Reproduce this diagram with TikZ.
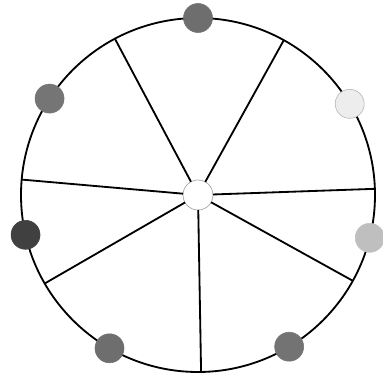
\documentclass[tikz,border=0pt]{standalone}
\usepackage{tikz}
\usetikzlibrary{positioning, calc}

\begin{document}
\begin{tikzpicture}[
    x=0.025cm, y=0.025cm,
    rimcircle/.style={circle, draw, line width=1.3pt, minimum size=354*0.025cm, inner sep=0pt, outer sep=0pt},
    hubcircle/.style={circle, draw=gray!70, fill=white, line width=0.5pt, minimum size=30*0.025cm, inner sep=0pt, outer sep=0pt},
    spoke/.style={line width=1.3pt},
    dot/.style={circle, fill=#1, draw=#1, line width=0.4pt, minimum size=29*0.025cm, inner sep=0pt},
    ]
\useasboundingbox (-198,-187) rectangle (185,195);

\node[rimcircle] (rim) at (0,0) {};
\node[hubcircle] (hub) at (0,0) {};

% Spokes from the hub to the rim
\foreach \ang in {2, 61, 118, 175, 210, 271, 331}
    \draw[spoke] (hub) -- (rim.\ang);

% Coloured points on the rim
\node[dot=black!57] (p1) at (rim.90) {};
\node[dot=black!7, draw=gray!60] (p2) at (rim.31) {};
\node[dot=black!25] (p3) at (rim.346) {};
\node[dot=black!55] (p4) at (rim.301) {};
\node[dot=black!57] (p5) at (rim.240) {};
\node[dot=black!75] (p6) at (rim.193) {};
\node[dot=black!54] (p7) at (rim.147) {};

\end{tikzpicture}
\end{document}
